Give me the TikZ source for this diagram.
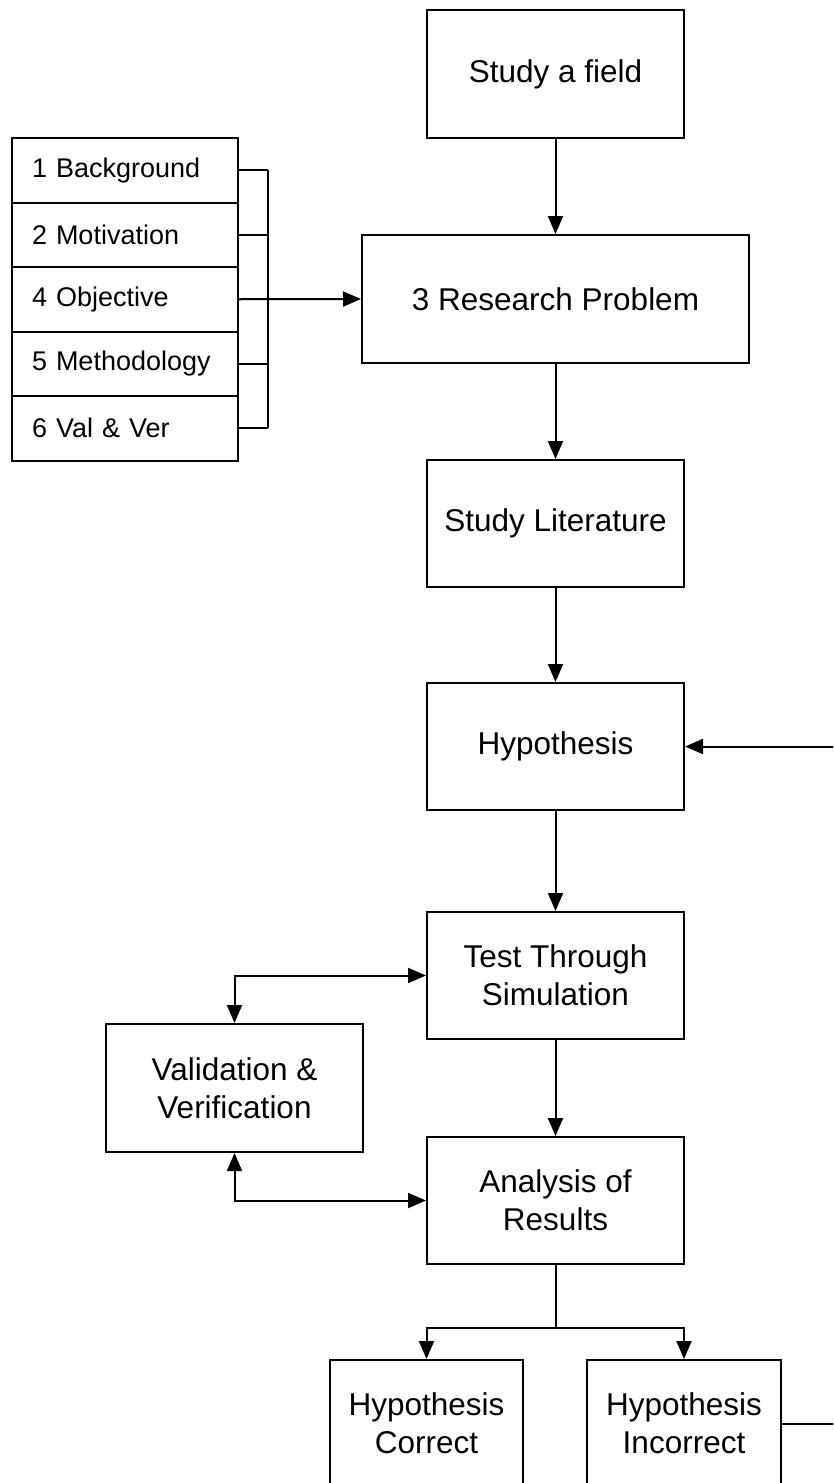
\documentclass[tikz,border=0pt]{standalone}
\usepackage{fontspec}
\setmainfont{Liberation Sans}
\usetikzlibrary{arrows.meta}
\begin{document}
\begin{tikzpicture}[x=1pt,y=-1pt,
  line width=2pt,
  box/.style={draw,line width=2pt,inner sep=0pt,align=center,
    font=\fontsize{31.5}{38}\selectfont},
  item/.style={draw,line width=2pt,inner xsep=20pt,inner ysep=0pt,
    text width=186pt,align=left,minimum height=64.5pt,
    font=\fontsize{27}{32}\selectfont},
  arr/.style={-{Triangle[length=18pt,width=15pt]}},
  darr/.style={{Triangle[length=18pt,width=15pt]}-{Triangle[length=18pt,width=15pt]}}]
\useasboundingbox (0,0) rectangle (833,1483);
\clip (0,0) rectangle (833,1483);

% main column
\node[box,minimum width=257pt,minimum height=128pt] (field) at (555.5,74) {Study a field};
\node[box,minimum width=387pt,minimum height=128pt] (rp) at (555.5,299) {3 Research Problem};
\node[box,minimum width=257pt,minimum height=127pt] (lit) at (555.5,523.5) {Study Literature};
\node[box,minimum width=257pt,minimum height=127pt] (hyp) at (555.5,746.5) {Hypothesis};
\node[box,minimum width=257pt,minimum height=127pt] (test) at (555.5,975.5) {Test Through\\Simulation};
\node[box,minimum width=257pt,minimum height=127pt] (ana) at (555.5,1200.5) {Analysis of\\Results};
\node[box,minimum width=257pt,minimum height=128pt] (vv) at (234.5,1088) {Validation \&\\Verification};
\node[box,minimum width=193pt,minimum height=127pt] (hc) at (426.5,1423.5) {Hypothesis\\Correct};
\node[box,minimum width=194pt,minimum height=127pt] (hi) at (684,1423.5) {Hypothesis\\Incorrect};

% stacked list of report sections
\node[item] (r1) at (125,170.25) {1 Background};
\node[item] (r2) at (125,234.75) {2 Motivation};
\node[item] (r3) at (125,299.25) {4 Objective};
\node[item] (r4) at (125,363.75) {5 Methodology};
\node[item] (r5) at (125,428.25) {6 Val \& Ver};

% bracket gathering the sections
\coordinate (bx) at (268,0);
\foreach \r in {r1,r2,r4,r5} \draw (\r.east) -- (\r.east -| bx);
\draw (r1.east -| bx) -- (r5.east -| bx);
\draw[arr] (r3.east) -- (rp.west);

% main flow
\draw[arr] (field) -- (rp);
\draw[arr] (rp) -- (lit);
\draw[arr] (lit) -- (hyp);
\draw[arr] (hyp) -- (test);
\draw[arr] (test) -- (ana);

% validation loop
\draw[darr] (vv.north) |- (test.west);
\draw[darr] (vv.south) |- (ana.west);

% outcome branches
\coordinate (split) at (555.5,1328);
\draw (ana.south) -- (split);
\draw[arr] (split) -| (hc.north);
\draw[arr] (split) -| (hi.north);

% feedback from an incorrect hypothesis
\coordinate (back) at (850,0);
\draw[arr] (hi.east) -- (hi.east -| back) -- (hyp.east -| back) -- (hyp.east);
\end{tikzpicture}
\end{document}
